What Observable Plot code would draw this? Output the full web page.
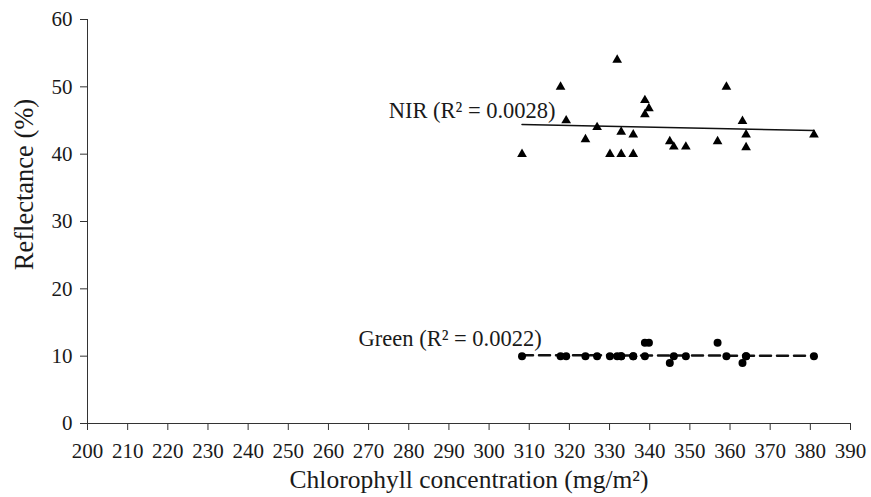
<!DOCTYPE html>
<html>
<head>
<meta charset="utf-8">
<script src="https://cdn.jsdelivr.net/npm/d3@7"></script>
<script src="https://cdn.jsdelivr.net/npm/@observablehq/plot@0.6"></script>
<style>
  html, body { margin: 0; padding: 0; background: #fff; }
  #chart svg { display: block; }
</style>
</head>
<body>
<div id="chart"></div>
<script>
// Chlorophyll concentration (mg/m²) for each sample
const chlorophyll = [308.2, 317.8, 319.2, 324.0, 326.9, 330.1, 331.9, 332.9, 332.9, 335.9, 335.9, 338.8, 338.8, 339.8, 345.0, 346.0, 349.0, 356.9, 359.1, 363.1, 364.0, 364.0, 380.9];
// NIR reflectance (%)
const nirValues = [40, 50, 45, 42.2, 44, 40, 54, 43.3, 40, 42.9, 40, 48, 45.9, 46.8, 41.9, 41.1, 41.1, 41.9, 50, 44.9, 42.9, 41, 42.9];
// Green reflectance (%)
const greenValues = [10, 10, 10, 10, 10, 10, 10, 10, 10, 10, 10, 12, 10, 12, 9, 10, 10, 12, 10, 9, 10, 10, 10];
// Trend lines (endpoints)
const nirTrendX = [308.2, 380.9];
const nirTrendY = [44.4, 43.5];
const greenTrendX = [308.2, 380.9];
const greenTrendY = [10.15, 10.05];
// Tick labels
const xTicks = d3.range(200, 391, 10);
const yTicks = [0, 10, 20, 30, 40, 50, 60];
// Annotations
const labelX = [275, 267.5];
const labelY = [46.4, 12.55];
const labelText = ["NIR (R² = 0.0028)", "Green (R² = 0.0022)"];

const nir = chlorophyll.map((c, i) => ({x: c, y: nirValues[i]}));
const green = chlorophyll.map((c, i) => ({x: c, y: greenValues[i]}));
const nirTrend = nirTrendX.map((x, i) => ({x, y: nirTrendY[i]}));
const greenTrend = greenTrendX.map((x, i) => ({x, y: greenTrendY[i]}));
const labels = labelText.map((t, i) => ({x: labelX[i], y: labelY[i], text: t}));

const font = "'Liberation Serif', 'Times New Roman', serif";

const chart = Plot.plot({
  width: 871,
  height: 497,
  marginLeft: 87,
  marginRight: 21,
  marginTop: 19,
  marginBottom: 74,
  style: {fontFamily: font, fontSize: "21px", color: "#1a1a1a", background: "#fff"},
  x: {domain: [200, 390]},
  y: {domain: [0, 60]},
  marks: [
    Plot.ruleX([200], {y1: 0, y2: 60, stroke: "#333", strokeWidth: 1}),
    Plot.ruleY([0], {x1: 200, x2: 390, stroke: "#333", strokeWidth: 1}),
    Plot.axisX({ticks: xTicks, tickSize: 7, tickPadding: 13, label: null, fontSize: 21, stroke: "#333"}),
    Plot.axisY({ticks: yTicks, tickSize: 7, tickPadding: 8, label: null, fontSize: 21, stroke: "#333"}),
    Plot.text(["Chlorophyll concentration (mg/m²)"], {frameAnchor: "bottom", textAnchor: "middle", lineAnchor: "middle", dy: 56.7, fontSize: 25.5, fill: "#1a1a1a"}),
    Plot.text(["Reflectance (%)"], {frameAnchor: "left", textAnchor: "middle", lineAnchor: "middle", dx: -63, dy: -37, rotate: -90, fontSize: 26.5, fill: "#1a1a1a"}),
    Plot.line(nirTrend, {x: "x", y: "y", stroke: "#111", strokeWidth: 1.5}),
    Plot.line(greenTrend, {x: "x", y: "y", stroke: "#111", strokeWidth: 2.5, strokeDasharray: "11,6"}),
    Plot.dot(nir, {x: "x", y: "y", symbol: "triangle", r: 3.6, fill: "#000", stroke: "none"}),
    Plot.dot(green, {x: "x", y: "y", symbol: "circle", r: 4, fill: "#000", stroke: "none"}),
    Plot.text(labels, {x: "x", y: "y", text: "text", textAnchor: "start", lineAnchor: "middle", fontSize: 22.5, fill: "#1a1a1a"})
  ]
});
document.getElementById("chart").appendChild(chart);
</script>
</body>
</html>
